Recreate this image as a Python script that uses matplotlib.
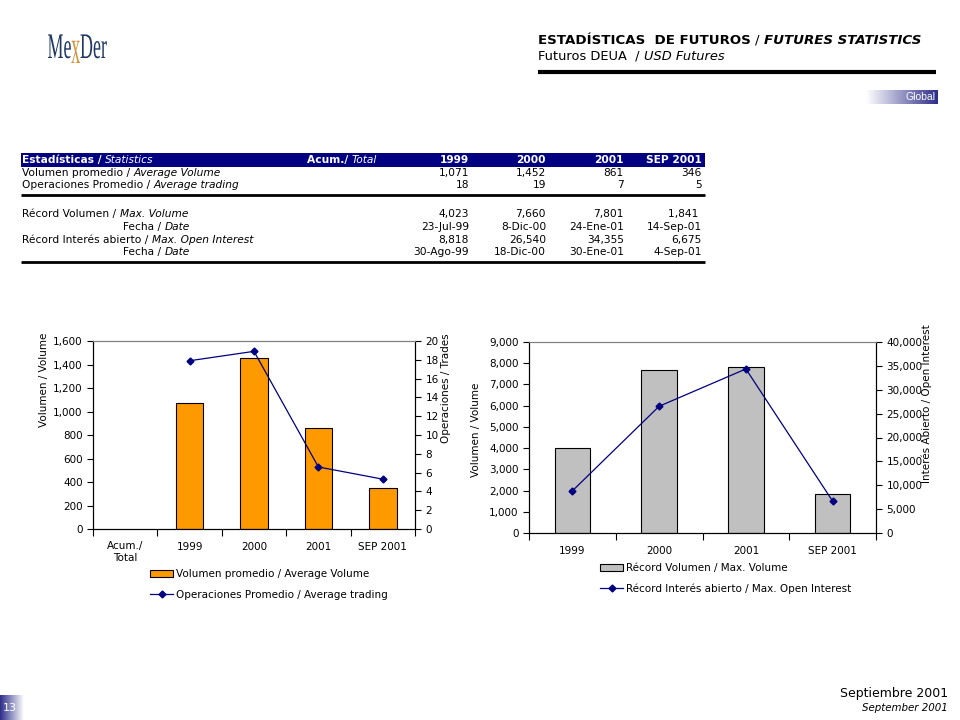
import numpy as np
import matplotlib
matplotlib.use("Agg")
import matplotlib.pyplot as plt
from matplotlib.patches import Patch, Rectangle, PathPatch
from matplotlib.lines import Line2D
from matplotlib.colors import LinearSegmentedColormap
from matplotlib.textpath import TextPath
from matplotlib.font_manager import FontProperties
from matplotlib.transforms import Affine2D

plt.rcParams['font.family'] = ['DejaVu Sans']

# datos
cats_left = ['Acum./\nTotal', '1999', '2000', '2001', 'SEP 2001']
years = ['1999', '2000', '2001', 'SEP 2001']
vol_prom = [1071, 1452, 861, 346]
ops_prom = [17.9, 18.9, 6.6, 5.3]
rec_vol = [4023, 7660, 7801, 1841]
rec_int = [8818, 26540, 34355, 6675]

tabla_vol = ['1,071', '1,452', '861', '346']
tabla_ops = ['18', '19', '7', '5']
tabla_recvol = ['4,023', '7,660', '7,801', '1,841 ']
tabla_fecha1 = ['23-Jul-99', '8-Dic-00', '24-Ene-01', '14-Sep-01']
tabla_recint = ['8,818', '26,540', '34,355', '6,675']
tabla_fecha2 = ['30-Ago-99', '18-Dic-00', '30-Ene-01', '4-Sep-01']

NAVY = '#000080'
ORANGE = '#FF9900'
GRAY = '#C0C0C0'
FS = 7.7

fig = plt.figure(figsize=(9.6, 7.2), dpi=100)

# fondo en pixeles para textos y tabla
bg = fig.add_axes([0, 0, 1, 1])
bg.axis('off')


def chain(x, y, parts, size=FS, color='black'):
    st0 = dict({'color': color}, **parts[0][1])
    prev = bg.text(x, y, parts[0][0], va='center', ha='left', fontsize=size, **st0)
    for s, st in parts[1:]:
        st = dict({'color': color}, **st)
        prev = bg.annotate(s, xy=(1, 0), xycoords=prev, va='bottom', ha='left',
                           fontsize=size, **st)
    return prev


B = {'fontweight': 'bold'}
I = {'fontstyle': 'italic'}
N = {}

# logo (letras condensadas)
fp = FontProperties(family='Liberation Serif')
lx = 48
for s, c, sy, base in [('Me', '#1F3864', 1.0, 58), ('x', '#D4943A', 1.35, 63),
                       ('Der', '#1F3864', 1.0, 58)]:
    tp = TextPath((0, 0), s, size=36, prop=fp)
    ext = tp.get_extents()
    tr = Affine2D().translate(-ext.x0, 0).scale(0.5, -sy).translate(lx, base)
    bg.add_patch(PathPatch(tr.transform_path(tp), color=c, lw=0))
    lx += (ext.x1 - ext.x0) * 0.5 + 0.5

# titulo
chain(538, 40, [('ESTADÍSTICAS  DE FUTUROS ', B), ('/ ', N),
                ('FUTURES STATISTICS', {'fontweight': 'bold', 'fontstyle': 'italic'})],
      size=9.6)
chain(538, 56, [('Futuros DEUA  / ', N), ('USD Futures', I)], size=9.4)
bg.plot([538, 936], [72, 72], color='black', lw=3, solid_capstyle='butt')

# etiqueta Global
grad = np.linspace(0, 1, 100).reshape(1, -1)
cm = LinearSegmentedColormap.from_list('g', ['white', '#2E2E8A'])
bg.imshow(grad, extent=(866, 938, 104, 90), aspect='auto', cmap=cm)
bg.text(935, 97.5, 'Global', color='white', fontsize=7.5, ha='right', va='center',
        family='Liberation Sans')

# numero de pagina
cm2 = LinearSegmentedColormap.from_list('p', ['#2E2E8A', 'white'])
bg.imshow(grad, extent=(0, 24, 720, 695), aspect='auto', cmap=cm2)
bg.text(10, 708, '13', color='white', fontsize=8, ha='center', va='center',
        family='Liberation Sans Narrow')

bg.text(948, 693, 'Septiembre 2001', fontsize=9, ha='right', va='center')
bg.text(948, 708, 'September 2001', fontsize=7.4, ha='right', va='center',
        fontstyle='italic')

# tabla
bg.add_patch(Rectangle((21, 153), 684, 14, color=NAVY, lw=0))
chain(22, 160, [('Estadísticas / ', B), ('Statistics', I)], color='white')
chain(307, 160, [('Acum./ ', B), ('Total', I)], color='white')
col_x = [469, 546, 624, 702]
for cx, y in zip(col_x, years):
    bg.text(cx, 160, y, ha='right', va='center', fontsize=FS, color='white',
            fontweight='bold')

filas = [
    (173, [('Volumen promedio / ', N), ('Average Volume', I)], 22, tabla_vol),
    (185, [('Operaciones Promedio / ', N), ('Average trading', I)], 22, tabla_ops),
    (214, [('Récord Volumen / ', N), ('Max. Volume', I)], 22, tabla_recvol),
    (227, [('Fecha / ', N), ('Date', I)], 123, tabla_fecha1),
    (240, [('Récord Interés abierto / ', N), ('Max. Open Interest', I)], 22, tabla_recint),
    (252, [('Fecha / ', N), ('Date', I)], 123, tabla_fecha2),
]
for y, partes, x0, vals in filas:
    chain(x0, y, partes)
    for cx, v in zip(col_x, vals):
        bg.text(cx, y, v, ha='right', va='center', fontsize=FS)
bg.plot([21, 705], [195, 195], color='black', lw=2, solid_capstyle='butt')
bg.plot([21, 705], [262, 262], color='black', lw=2, solid_capstyle='butt')

bg.set_xlim(0, 960)
bg.set_ylim(720, 0)


def px(x0, y0, x1, y1):
    return [x0 / 960, 1 - y1 / 720, (x1 - x0) / 960, (y1 - y0) / 720]


def estilo(ax, n):
    ax.set_xlim(-0.5, n - 0.5)
    ax.set_xticks(np.arange(n + 1) - 0.5)
    ax.set_xticklabels([])
    ax.tick_params(axis='x', which='major', length=5, direction='out')
    ax.set_xticks(np.arange(n), minor=True)
    ax.tick_params(axis='x', which='minor', length=0, pad=9, labelsize=7.5)
    ax.tick_params(axis='y', labelsize=7.5, length=4)
    ax.spines['top'].set_color('#808080')


# grafica izquierda
ax1 = fig.add_axes(px(93, 341, 415, 529))
x_left = np.arange(len(cats_left))
ax1.bar(x_left[1:], vol_prom, width=0.43, color=ORANGE, edgecolor='black', lw=0.8)
ax1.set_ylim(0, 1600)
ax1.set_yticks(np.arange(0, 1601, 200))
ax1.set_yticklabels([f'{v:,}' for v in range(0, 1601, 200)])
estilo(ax1, len(cats_left))
ax1.set_xticklabels(cats_left, minor=True)
ax1b = ax1.twinx()
ax1b.plot(x_left[1:], ops_prom, color=NAVY, lw=0.9, marker='D', ms=3.5)
ax1b.set_ylim(0, 20)
ax1b.set_yticks(np.arange(0, 21, 2))
ax1b.tick_params(axis='y', labelsize=7.5, length=4)
ax1b.spines['top'].set_color('#808080')
fig.text(44 / 960, 1 - 380 / 720, 'Volumen / Volume', rotation=90, ha='center',
         va='center', fontsize=7.5)
fig.text(446 / 960, 1 - 388 / 720, 'Operaciones / Trades', rotation=90, ha='center',
         va='center', fontsize=7.5)
fig.legend([Patch(facecolor=ORANGE, edgecolor='black', lw=0.8),
            Line2D([], [], color=NAVY, lw=0.9, marker='D', ms=3.5)],
           ['Volumen promedio / Average Volume',
            'Operaciones Promedio / Average trading'],
           loc='upper left', bbox_to_anchor=(146 / 960, 1 - 565 / 720),
           frameon=False, fontsize=7.5, labelspacing=1.0, handlelength=2.2,
           handletextpad=0.3, borderaxespad=0)

# grafica derecha
ax2 = fig.add_axes(px(529, 342, 876, 533))
x_right = np.arange(len(years))
ax2.bar(x_right, rec_vol, width=0.41, color=GRAY, edgecolor='black', lw=0.8)
ax2.set_ylim(0, 9000)
ax2.set_yticks(np.arange(0, 9001, 1000))
ax2.set_yticklabels([f'{v:,}' for v in range(0, 9001, 1000)])
estilo(ax2, len(years))
ax2.set_xticklabels(years, minor=True)
ax2b = ax2.twinx()
ax2b.plot(x_right, rec_int, color=NAVY, lw=0.9, marker='D', ms=3.5)
ax2b.set_ylim(0, 40000)
ax2b.set_yticks(np.arange(0, 40001, 5000))
ax2b.set_yticklabels([f'{v:,}' for v in range(0, 40001, 5000)])
ax2b.tick_params(axis='y', labelsize=7.5, length=4)
ax2b.spines['top'].set_color('#808080')
fig.text(476 / 960, 1 - 430 / 720, 'Volumen / Volume', rotation=90, ha='center',
         va='center', fontsize=7.5)
fig.text(927 / 960, 1 - 404 / 720, 'Interés Abierto / Open Interest', rotation=90,
         ha='center', va='center', fontsize=7.5)
fig.legend([Patch(facecolor=GRAY, edgecolor='black', lw=0.8),
            Line2D([], [], color=NAVY, lw=0.9, marker='D', ms=3.5)],
           ['Récord Volumen / Max. Volume',
            'Récord Interés abierto / Max. Open Interest'],
           loc='upper left', bbox_to_anchor=(596 / 960, 1 - 559 / 720),
           frameon=False, fontsize=7.5, labelspacing=1.0, handlelength=2.2,
           handletextpad=0.3, borderaxespad=0)

fig.savefig('out.png', dpi=100)
